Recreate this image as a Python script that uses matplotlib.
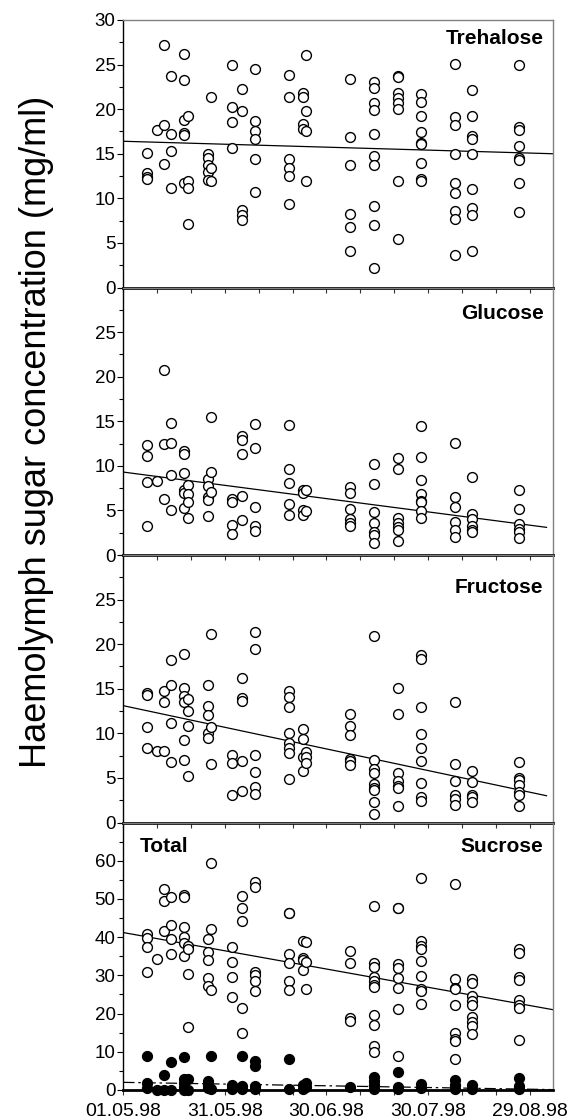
import datetime as dt
import matplotlib
matplotlib.use("Agg")
import matplotlib.pyplot as plt
import matplotlib.dates as mdates
from matplotlib.ticker import MultipleLocator

plt.rcParams['font.family'] = ['Liberation Sans', 'DejaVu Sans']

start = dt.date(1998, 5, 1)
# sampling days, counted from 01.05.98
sample_days = [7, 10, 12, 14, 18, 19, 25, 26, 32, 35, 39, 49, 53, 54, 67, 74, 81, 88, 98, 103, 117]

trehalose = [
    [15.1, 12.8, 12.4, 12.2], [17.7], [27.2, 18.2, 13.9], [23.7, 17.2, 15.3, 11.2],
    [26.2, 23.3, 18.8, 17.3, 17.1, 11.7], [19.2, 11.9, 11.2, 7.1],
    [15.0, 14.5, 13.7, 13.0, 12.1], [21.4, 13.4, 11.9], [25.0, 20.2, 18.6, 15.6],
    [22.3, 19.8, 8.7, 8.1, 7.6], [24.5, 18.7, 17.6, 16.6, 14.4, 10.7],
    [23.8, 21.4, 14.4, 13.4, 12.5, 9.4], [21.8, 21.4, 18.3, 17.8], [26.1, 19.8, 17.6, 11.9],
    [23.4, 16.9, 13.7, 8.2, 6.8, 4.1],
    [23.1, 22.4, 20.7, 19.9, 17.2, 14.7, 13.7, 9.1, 7.0, 2.2],
    [23.7, 23.6, 21.8, 21.2, 20.7, 20.0, 11.9, 5.4],
    [21.7, 20.8, 19.2, 17.4, 16.2, 16.1, 14.0, 12.2, 11.9],
    [25.1, 19.1, 18.2, 15.0, 11.7, 10.6, 8.6, 7.7, 3.6],
    [22.1, 19.2, 17.0, 16.6, 15.0, 11.0, 8.9, 8.1, 4.1],
    [25.0, 18.0, 17.7, 15.9, 14.5, 14.3, 11.7, 8.5],
]

glucose = [
    [12.3, 11.1, 8.2, 3.2], [8.3], [20.8, 12.5, 6.3], [14.8, 12.6, 9.0, 5.1],
    [11.7, 11.3, 9.2, 7.3, 7.0, 5.3], [7.8, 6.8, 5.9, 4.2], [8.5, 7.7, 6.5, 6.2, 4.4],
    [15.5, 9.3, 7.1], [6.3, 5.9, 3.4, 2.4], [13.4, 12.9, 11.3, 6.6, 3.9],
    [14.7, 12.0, 5.4, 3.2, 2.7], [14.6, 9.7, 8.1, 5.7, 4.5], [7.3, 7.0, 5.1, 4.5],
    [7.3, 4.9], [7.6, 7.0, 5.2, 4.0, 3.6, 3.3], [10.2, 8.0, 4.8, 3.6, 2.6, 2.2, 1.4],
    [10.9, 9.6, 4.1, 3.6, 3.1, 2.8, 1.6], [14.5, 11.0, 8.4, 6.8, 6.1, 5.9, 4.9, 4.1],
    [12.6, 6.5, 5.4, 3.7, 2.8, 2.0], [8.7, 4.6, 4.0, 3.3, 2.8, 2.6],
    [7.3, 5.2, 3.5, 2.9, 2.6, 1.9],
]

fructose = [
    [14.5, 14.3, 10.7, 8.4], [8.0], [14.7, 13.5, 8.0], [18.2, 15.4, 11.2, 6.8],
    [18.9, 15.1, 14.2, 13.5, 9.3, 7.0], [13.8, 12.5, 10.8, 5.2],
    [15.4, 13.1, 12.1, 10.0, 9.5], [21.1, 10.7, 6.6], [7.6, 6.7, 3.1],
    [16.2, 14.0, 13.6, 6.9, 3.5], [21.4, 19.5, 7.6, 5.7, 4.0, 3.2],
    [14.7, 14.1, 13.0, 10.0, 8.9, 8.4, 7.8, 4.9], [10.5, 9.4, 7.3, 5.8], [7.9, 7.3, 6.7],
    [12.2, 10.8, 9.8, 7.1, 6.9, 6.5], [20.9, 7.0, 6.0, 5.5, 4.3, 3.9, 3.7, 2.3, 1.0],
    [15.1, 12.2, 5.6, 4.6, 4.1, 3.9, 1.9], [18.8, 18.3, 13.0, 9.9, 8.3, 6.9, 4.4, 2.9, 2.4],
    [13.5, 6.6, 4.6, 3.1, 2.6, 2.0], [5.8, 4.5, 3.1, 2.9, 2.3],
    [6.8, 5.0, 4.8, 4.2, 3.4, 3.1, 1.9],
]

total = [
    [40.9, 39.7, 37.5, 30.8], [34.4], [52.7, 49.5, 41.6], [50.6, 43.2, 39.4, 35.7],
    [51.0, 50.6, 42.7, 40.0, 38.5, 35.0], [37.8, 36.8, 30.4, 16.4],
    [39.4, 36.2, 34.0, 29.3, 27.1], [59.4, 42.2, 26.1], [37.5, 33.5, 29.5, 24.3],
    [50.8, 47.7, 44.2, 21.5, 14.9], [54.3, 53.0, 30.9, 30.2, 28.5, 26.0],
    [46.4, 46.2, 35.6, 33.3, 28.6, 26.1], [39.0, 34.6, 34.0, 31.5], [38.7, 33.4, 26.3],
    [36.3, 33.3, 18.8, 18.0],
    [48.2, 33.3, 32.1, 29.5, 28.5, 27.4, 26.9, 19.5, 16.9, 11.4, 9.9],
    [47.7, 47.5, 33.1, 32.0, 29.3, 26.7, 21.3, 8.8],
    [55.4, 39.0, 37.8, 36.8, 33.7, 29.9, 26.4, 25.8, 22.6],
    [53.9, 29.1, 26.7, 26.3, 22.3, 14.9, 13.3, 12.9, 8.1],
    [29.1, 28.0, 24.5, 23.2, 22.3, 19.0, 17.7, 16.8, 14.7],
    [37.0, 35.9, 29.6, 28.9, 23.6, 22.3, 21.5, 13.1],
]

sucrose = [
    [9.0, 1.9, 0.4], [0.1], [3.9, 0.1], [7.4, 0.1], [8.6, 2.8, 1.8, 0.9, 0.1], [3.0, 0.1],
    [2.4, 1.3, 0.4], [9.0, 0.3], [1.3, 0.4, 0.2], [8.8, 1.1, 0.2], [7.6, 6.4, 1.1, 0.2],
    [8.1, 0.2], [1.3, 0.2], [1.9, 0.9], [0.7], [3.3, 2.4, 1.3, 0.2], [4.8, 0.9, 0.2],
    [1.5, 0.4], [2.6, 1.3, 0.2], [1.3, 0.2], [3.2, 1.1, 0.2],
]

# linear regression lines: (first day, last day, value at first day, value at last day)
trend_trehalose = (0, 127.3, 16.4, 15.0)
trend_glucose = (0, 125.8, 9.3, 3.1)
trend_fructose = (0, 125.8, 13.1, 3.0)
trend_total = (0, 127.3, 41.2, 21.0)
trend_sucrose = (0, 127.3, 2.0, 0.1)

date_ticks = ["01.05.98", "31.05.98", "30.06.98", "30.07.98", "29.08.98"]


def day_num(d):
    return mdates.date2num(start + dt.timedelta(days=d))


def flatten(groups):
    xs, ys = [], []
    for d, vals in zip(sample_days, groups):
        for v in vals:
            xs.append(day_num(d))
            ys.append(v)
    return xs, ys


def draw_trend(ax, trend, **kw):
    d0, d1, v0, v1 = trend
    ax.plot([day_num(d0), day_num(d1)], [v0, v1], color='black', lw=0.9, **kw)


W, H = 570, 1120
fig = plt.figure(figsize=(W / 100, H / 100), dpi=100)
left, right = 123.3 / W, 553.3 / W
top_px, panel_px = 20.0, 267.5

panels = [
    dict(series=trehalose, trend=trend_trehalose, ymax=30, minor=2.5,
         ticks=[0, 5, 10, 15, 20, 25, 30], name="Trehalose", name_y=0.929),
    dict(series=glucose, trend=trend_glucose, ymax=30, minor=2.5,
         ticks=[0, 5, 10, 15, 20, 25], name="Glucose", name_y=0.903),
    dict(series=fructose, trend=trend_fructose, ymax=30, minor=2.5,
         ticks=[0, 5, 10, 15, 20, 25], name="Fructose", name_y=0.880),
    dict(series=total, trend=trend_total, ymax=70, minor=5,
         ticks=[0, 10, 20, 30, 40, 50, 60], name="Sucrose", name_y=0.912),
]

marker_kw = dict(s=50, linewidths=1.0, zorder=3, clip_on=False)
xmin, xmax = day_num(0), day_num(127.3)

for i, p in enumerate(panels):
    y_top = top_px + i * panel_px
    ax = fig.add_axes([left, 1 - (y_top + panel_px) / H, right - left, panel_px / H])
    xs, ys = flatten(p['series'])
    ax.scatter(xs, ys, facecolors='white', edgecolors='black', **marker_kw)
    draw_trend(ax, p['trend'], zorder=2)
    if i == 3:
        sx, sy = flatten(sucrose)
        ax.scatter(sx, sy, facecolors='black', edgecolors='black', **marker_kw)
        draw_trend(ax, trend_sucrose, zorder=2, linestyle=(0, (9, 3, 2, 3)))
        ax.text(0.039, 0.912, "Total", transform=ax.transAxes, ha='left', va='center',
                fontsize=15, fontweight='bold')
    ax.text(0.977, p['name_y'], p['name'], transform=ax.transAxes, ha='right', va='center',
            fontsize=15, fontweight='bold')

    ax.set_xlim(xmin, xmax)
    ax.set_ylim(0, p['ymax'])
    ax.set_yticks(p['ticks'])
    ax.yaxis.set_minor_locator(MultipleLocator(p['minor']))
    ax.set_xticks([day_num(d) for d in range(0, 121, 30)])
    ax.set_xticks([day_num(d) for d in range(0, 128, 10)], minor=True)
    if i == 3:
        ax.set_xticklabels(date_ticks)
    else:
        ax.set_xticklabels([])
    ax.tick_params(axis='both', which='major', direction='out', length=4, width=0.8,
                   pad=1.5, colors='black')
    ax.tick_params(axis='y', which='major', labelsize=13.5)
    ax.tick_params(axis='x', which='major', labelsize=14, pad=5.5)
    ax.tick_params(axis='both', which='minor', direction='out', length=3, width=0.8)
    ax.tick_params(axis='x', which='both', length=3.5, color='#333333')
    for side in ('top', 'right'):
        ax.spines[side].set_color('#808080')
        ax.spines[side].set_linewidth(1.0)
    ax.spines['left'].set_linewidth(1.0)
    ax.spines['bottom'].set_linewidth(2.0)
    ax.spines['bottom'].set_zorder(4)
    ax.set_facecolor('none')

fig.text(37 / W, 1 - 432 / H, "Haemolymph sugar concentration (mg/ml)", rotation=90,
         ha='center', va='center', fontsize=26)

fig.savefig("out.png", dpi=100)
